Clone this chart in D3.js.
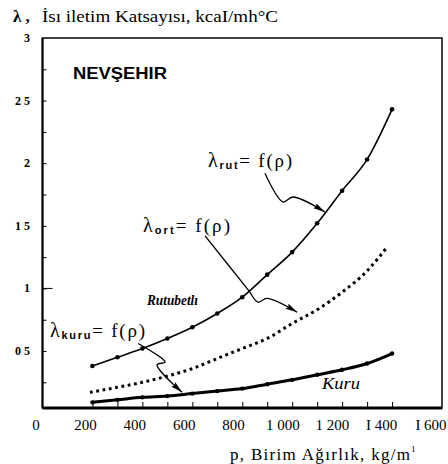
<!DOCTYPE html>
<html>
<head>
<meta charset="utf-8">
<script src="https://cdn.jsdelivr.net/npm/d3@7"></script>
<style>
  body { margin: 0; background: #fff; }
  svg { display: block; }
</style>
</head>
<body>
<div id="chart"></div>
<script>
// density (kg/m3) and conductivity values
const rhoRut = [200, 300, 400, 500, 600, 700, 800, 900, 1000, 1100, 1200, 1300, 1400];
const lamRut = [0.38, 0.45, 0.52, 0.60, 0.69, 0.80, 0.93, 1.11, 1.29, 1.52, 1.78, 2.03, 2.43];

const rhoOrt = [190, 300, 400, 500, 600, 700, 800, 900, 1000, 1100, 1200, 1300, 1380];
const lamOrt = [0.17, 0.21, 0.25, 0.30, 0.36, 0.44, 0.52, 0.60, 0.72, 0.83, 0.97, 1.14, 1.33];

const rhoKuru = [200, 300, 400, 500, 600, 700, 800, 900, 1000, 1100, 1200, 1300, 1400];
const lamKuru = [0.09, 0.11, 0.13, 0.14, 0.16, 0.18, 0.20, 0.235, 0.27, 0.31, 0.35, 0.40, 0.48];

const xTicks = [0, 200, 400, 600, 800, 1000, 1200, 1400, 1600];
const xTickLabels = ["0", "200", "400", "600", "800", "1 000", "1 200", "I 400", "I 600"];
const yTicks = [0.5, 1, 1.5, 2, 2.5, 3];
const yTickLabels = ["0 5", "1", "1 5", "2", "2 5", "3"];

const width = 448, height = 464;
const m = { left: 42.5, right: 442, top: 38, bottom: 408 };

const x = d3.scaleLinear().domain([0, 1600]).range([m.left, m.right]);
const y = d3.scaleLinear().domain([0.045, 3]).range([m.bottom, m.top]);
// the printed labels sit a bit left of their ticks in the scan
const xLab = d3.scaleLinear().domain([0, 1600]).range([36, 431]);

const svg = d3.select("#chart").append("svg")
  .attr("width", width).attr("height", height);

const serif = "'Liberation Serif', 'DejaVu Serif', serif";
const sans = "'Liberation Sans', Arial, sans-serif";

svg.append("defs").append("marker")
  .attr("id", "arrow")
  .attr("viewBox", "0 0 12 6")
  .attr("refX", 12).attr("refY", 3)
  .attr("markerWidth", 12).attr("markerHeight", 6)
  .attr("markerUnits", "userSpaceOnUse")
  .attr("orient", "auto")
  .append("path").attr("d", "M0,0 L12,3 L0,6 L2,3 Z").attr("fill", "#000");

// frame
svg.append("rect")
  .attr("x", m.left).attr("y", m.top)
  .attr("width", m.right - m.left).attr("height", m.bottom - m.top)
  .attr("fill", "none").attr("stroke", "#000").attr("stroke-width", 1.5);
svg.append("line")
  .attr("x1", m.left).attr("x2", m.right).attr("y1", m.bottom).attr("y2", m.bottom)
  .attr("stroke", "#000").attr("stroke-width", 3);
svg.append("line")
  .attr("x1", m.left).attr("x2", m.left).attr("y1", m.top).attr("y2", m.bottom)
  .attr("stroke", "#000").attr("stroke-width", 2);

// x axis: inner ticks every 100, labels every 200
const xAxis = svg.append("g").attr("transform", `translate(0,${m.bottom})`)
  .call(d3.axisTop(x).tickValues(d3.range(200, 1500, 100)).tickSize(6).tickFormat(""));
xAxis.select(".domain").remove();
xAxis.selectAll("line").attr("stroke-width", 1);

svg.append("g").selectAll("text")
  .data(xTicks)
  .join("text")
  .attr("x", d => xLab(d))
  .attr("y", 430)
  .attr("text-anchor", "middle")
  .attr("font-family", serif)
  .attr("font-size", 15)
  .text((d, i) => xTickLabels[i]);

// y axis: inner ticks
const yAxis = svg.append("g").attr("transform", `translate(${m.left},0)`)
  .call(d3.axisRight(y).tickValues(d3.range(0.25, 3, 0.25)).tickSize(4).tickFormat(""));
yAxis.select(".domain").remove();
yAxis.selectAll("line").attr("stroke-width", 1);
svg.append("line")
  .attr("x1", m.left).attr("x2", m.left + 10).attr("y1", y(1)).attr("y2", y(1))
  .attr("stroke", "#000").attr("stroke-width", 1);

svg.append("g").selectAll("text")
  .data(yTicks)
  .join("text")
  .attr("x", 30)
  .attr("y", d => y(d) + 4)
  .attr("text-anchor", "end")
  .attr("font-family", serif)
  .attr("font-weight", "bold")
  .attr("font-size", 12)
  .text((d, i) => yTickLabels[i]);

// curves
const line = d3.line().x(d => x(d[0])).y(d => y(d[1])).curve(d3.curveMonotoneX);
const rutData = rhoRut.map((r, i) => [r, lamRut[i]]);
const ortData = rhoOrt.map((r, i) => [r, lamOrt[i]]);
const kuruData = rhoKuru.map((r, i) => [r, lamKuru[i]]);

svg.append("path").datum(rutData).attr("d", line)
  .attr("fill", "none").attr("stroke", "#000").attr("stroke-width", 1.6);
svg.append("g").selectAll("circle").data(rutData).join("circle")
  .attr("cx", d => x(d[0])).attr("cy", d => y(d[1])).attr("r", 2.3).attr("fill", "#000");

svg.append("path").datum(ortData).attr("d", line)
  .attr("fill", "none").attr("stroke", "#000").attr("stroke-width", 3)
  .attr("stroke-dasharray", "2.8,3.6");

svg.append("path").datum(kuruData).attr("d", line)
  .attr("fill", "none").attr("stroke", "#000").attr("stroke-width", 3);
svg.append("g").selectAll("circle").data(kuruData).join("circle")
  .attr("cx", d => x(d[0])).attr("cy", d => y(d[1])).attr("r", 2.2).attr("fill", "#000");

// pointer arrows (data coordinates)
const pointers = [
  [[891, 1.92], [963, 1.69], [1003, 1.73], [1131, 1.61]],
  [[651, 1.42], [823, 0.99], [863, 0.89], [899, 0.92], [1020, 0.81]],
  [[383, 0.56], [479, 0.44], [491, 0.41], [459, 0.39], [559, 0.17]]
];
const pline = d3.line().x(d => x(d[0])).y(d => y(d[1])).curve(d3.curveCatmullRom);
svg.append("g").selectAll("path").data(pointers).join("path")
  .attr("d", pline)
  .attr("fill", "none").attr("stroke", "#000").attr("stroke-width", 1.3)
  .attr("marker-end", "url(#arrow)");

// function labels
function fLabel(px, py, sub, len) {
  const t = svg.append("text").attr("x", px).attr("y", py)
    .attr("font-family", serif).attr("font-size", 19)
    .attr("textLength", len).attr("lengthAdjust", "spacing");
  t.append("tspan").attr("font-size", 20).text("λ");
  t.append("tspan").attr("font-size", 11).attr("dy", 2).attr("font-weight", "bold")
    .attr("font-family", sans).text(sub);
  t.append("tspan").attr("dy", -2).text("= f(ρ)");
}
fLabel(208, 167, "rut", 84);
fLabel(143, 232, "ort", 87);
fLabel(50, 337, "kuru", 95);

svg.append("text").attr("x", 147).attr("y", 305)
  .attr("font-family", serif).attr("font-style", "italic").attr("font-weight", "bold")
  .attr("font-size", 15).attr("textLength", 51).attr("lengthAdjust", "spacingAndGlyphs")
  .text("Rutubetlı");
svg.append("text").attr("x", 322).attr("y", 389)
  .attr("font-family", serif).attr("font-style", "italic")
  .attr("font-size", 16).attr("textLength", 38).attr("lengthAdjust", "spacingAndGlyphs")
  .text("Kuru");

svg.append("text").attr("x", 73).attr("y", 79)
  .attr("font-family", sans).attr("font-weight", "bold")
  .attr("font-size", 16).attr("textLength", 94).attr("lengthAdjust", "spacingAndGlyphs")
  .text("NEVŞEHIR");

// axis titles
svg.append("text").attr("x", 13).attr("y", 22)
  .attr("font-family", serif).attr("font-weight", "bold").attr("font-size", 17)
  .text("λ ,");
svg.append("text").attr("x", 42).attr("y", 22)
  .attr("font-family", serif).attr("font-size", 16)
  .attr("textLength", 236).attr("lengthAdjust", "spacingAndGlyphs")
  .text("İsı iletim Katsayısı, kcaI/mh°C");

svg.append("text").attr("x", 230).attr("y", 460)
  .attr("font-family", serif).attr("font-size", 17)
  .attr("textLength", 180).attr("lengthAdjust", "spacing")
  .text("p,   Birim Ağırlık, kg/m");
svg.append("text").attr("x", 411).attr("y", 452)
  .attr("font-family", serif).attr("font-size", 9).text("1");
</script>
</body>
</html>
